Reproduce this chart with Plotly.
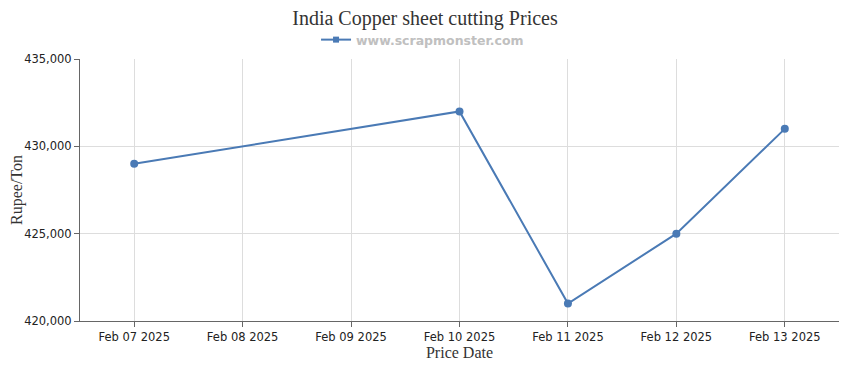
import plotly.graph_objects as go

dates = ["2025-02-07", "2025-02-10", "2025-02-11", "2025-02-12", "2025-02-13"]
prices = [429000, 432000, 421000, 425000, 431000]
tick_vals = ["2025-02-07", "2025-02-08", "2025-02-09", "2025-02-10", "2025-02-11", "2025-02-12", "2025-02-13"]
tick_text = ["Feb 07 2025", "Feb 08 2025", "Feb 09 2025", "Feb 10 2025", "Feb 11 2025", "Feb 12 2025", "Feb 13 2025"]
y_ticks = [420000, 425000, 430000, 435000]
series_name = "www.scrapmonster.com"

color = "#4a7ab5"

# page body has an 8px default margin; size the figure so it fits the 850x370 window
W, H = 842, 362

fig = go.Figure()
fig.add_trace(go.Scatter(
    x=dates, y=prices, mode="lines+markers", name=series_name, showlegend=False,
    line=dict(color=color, width=2), marker=dict(color=color, size=8),
))
# legend entry (square marker like the original)
fig.add_trace(go.Scatter(
    x=[None], y=[None], mode="lines+markers", name=series_name,
    line=dict(color=color, width=2), marker=dict(color=color, size=6, symbol="square"),
))

fig.update_layout(
    width=W, height=H,
    margin=dict(l=72, r=11, t=51, b=49, autoexpand=False),
    paper_bgcolor="white", plot_bgcolor="white",
    title=dict(text="India Copper sheet cutting Prices", x=417 / W, xanchor="center",
               y=1 - 10 / H, yanchor="middle",
               font=dict(family="Liberation Serif", size=20, color="#333333")),
    showlegend=True,
    legend=dict(orientation="h", x=380 / W, xanchor="center", y=1 - 32 / H, yanchor="middle",
                yref="container",
                font=dict(family="DejaVu Sans", size=12.5, color="#c0c0c0", weight="bold"),
                itemwidth=30),
    xaxis=dict(
        type="date", automargin=False,
        range=["2025-02-06 12:00", "2025-02-13 12:00"],
        tickvals=tick_vals, ticktext=tick_text,
        showgrid=True, gridcolor="#dddddd", gridwidth=1,
        showline=True, linecolor="#666666", linewidth=1,
        ticks="outside", ticklen=5, tickcolor="#666666",
        tickfont=dict(family="DejaVu Sans", size=11.5, color="#222222"),
        title=dict(text="Price Date", font=dict(family="Liberation Serif", size=16, color="#333333"), standoff=4),
        zeroline=False,
    ),
    yaxis=dict(
        range=[420000, 435000], automargin=False,
        tickvals=y_ticks, tickformat=",",
        showgrid=True, gridcolor="#dddddd", gridwidth=1,
        showline=True, linecolor="#666666", linewidth=1,
        ticks="outside", ticklen=5, tickcolor="#666666",
        tickfont=dict(family="DejaVu Sans", size=11.5, color="#222222"),
        title=dict(text="Rupee/Ton", font=dict(family="Liberation Serif", size=16, color="#333333"), standoff=0),
        zeroline=False,
    ),
)

fig.write_html("out.html")
